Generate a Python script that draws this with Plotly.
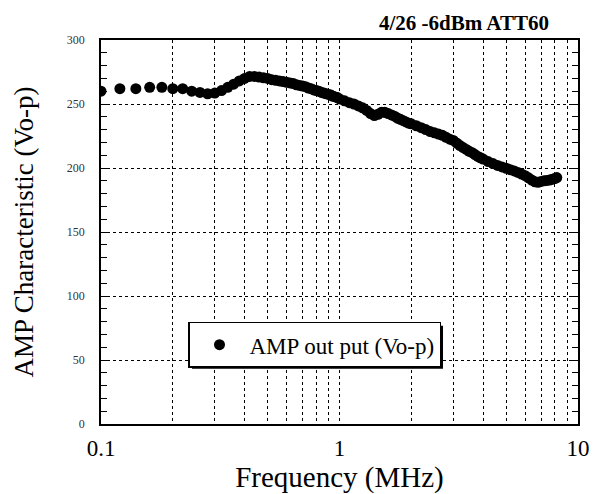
import plotly.graph_objects as go

freq_mhz = [
    0.10, 0.12, 0.14, 0.16, 0.18, 0.20, 0.22, 0.24, 0.26, 0.28,
    0.30, 0.32, 0.34, 0.36, 0.38, 0.40, 0.42, 0.44, 0.46, 0.48,
    0.50, 0.52, 0.54, 0.56, 0.58, 0.60, 0.62, 0.64, 0.66, 0.68,
    0.70, 0.72, 0.74, 0.76, 0.78, 0.80, 0.82, 0.84, 0.86, 0.88,
    0.90, 0.92, 0.94, 0.96, 0.98, 1.00,
    1.05, 1.10, 1.15, 1.20, 1.25, 1.30, 1.35, 1.40, 1.45, 1.50,
    1.55, 1.60, 1.65, 1.70, 1.75, 1.80, 1.85, 1.90, 1.95, 2.00,
    2.1, 2.2, 2.3, 2.4, 2.5, 2.6, 2.7, 2.8, 2.9, 3.0,
    3.1, 3.2, 3.3, 3.4, 3.5, 3.6, 3.7, 3.8, 3.9, 4.0,
    4.2, 4.4, 4.6, 4.8, 5.0, 5.2, 5.4, 5.6, 5.8, 6.0,
    6.2, 6.4, 6.6, 6.8, 7.0, 7.2, 7.4, 7.6, 7.8, 8.0, 8.15,
]
amp_vop = [
    260, 262, 262, 263, 263, 262, 262, 260, 259, 258,
    258.5, 260.5, 263, 265.5, 268, 270, 271.5, 271.5, 271, 270.5,
    270, 269, 268.5, 268, 267.5, 267, 266.5, 266, 265, 264.5,
    264, 263.5, 262.5, 262, 261, 260.5, 260, 259, 258.5, 258,
    257.5, 257, 256, 255.5, 255, 254,
    252.5, 251, 250, 248.5, 247, 245, 242.5, 241, 242, 243.5,
    243.5, 242.5, 241.5, 240.5, 239, 238, 237, 236, 235, 234.5,
    233, 231.5, 230, 228.5, 227.5, 226.5, 225.5, 224, 222.5, 221.5,
    219.5, 217.5, 216, 214.5, 213, 212, 210.5, 209, 208, 207,
    205, 203.5, 202, 200.8, 199.8, 198.7, 197.7, 196.5, 195.3, 194,
    192.3, 190.6, 189.2, 188.8, 189.5, 190, 190.3, 190.6, 191.2, 191.8, 192.5,
]

x_tick_vals = [0.1, 0.2, 0.3, 0.4, 0.5, 0.6, 0.7, 0.8, 0.9,
               1, 2, 3, 4, 5, 6, 7, 8, 9, 10]
x_tick_text = ["0.1", "", "", "", "", "", "", "", "",
               "1", "", "", "", "", "", "", "", "", "10"]
y_tick_vals = [0, 50, 100, 150, 200, 250, 300]

series_name = "AMP out put (Vo-p)"
chart_title = "4/26 -6dBm ATT60"
x_title = "Frequency (MHz)"
y_title = "AMP Characteristic (Vo-p)"

SERIF = "Liberation Serif, Times New Roman, serif"

fig = go.Figure()
fig.add_trace(go.Scatter(
    x=freq_mhz, y=amp_vop, mode="markers", name=series_name,
    marker=dict(color="black", size=11, line=dict(width=0)),
))

fig.update_layout(
    width=592, height=486,
    margin=dict(l=93, r=22, t=31.5, b=69.5, autoexpand=False),
    paper_bgcolor="white", plot_bgcolor="white",
    font=dict(family=SERIF, color="black"),
    showlegend=True,
    legend=dict(
        x=0.1824, y=0.2662, xanchor="left", yanchor="top",
        bgcolor="white", bordercolor="black", borderwidth=1.5,
        itemwidth=50,
        font=dict(family=SERIF, size=23, color="black"),
    ),
    annotations=[dict(
        text="<b>" + chart_title + "</b>", xref="paper", yref="paper",
        x=0.761, y=1.0, xanchor="center", yanchor="top", yshift=31,
        showarrow=False, font=dict(family=SERIF, size=21, color="black"),
    )],
    # drop shadow behind the legend box
    shapes=[dict(
        type="rect", xref="paper", yref="paper", layer="above",
        x0=0.1908, x1=0.717, y0=0.1442, y1=0.2558,
        fillcolor="black", line=dict(width=0),
    )],
)

fig.update_xaxes(
    type="log", range=[-1, 1], automargin=False,
    tickmode="array", tickvals=x_tick_vals, ticktext=x_tick_text,
    ticks="", showgrid=True, gridcolor="black", griddash="dot", gridwidth=1,
    showline=True, linecolor="black", linewidth=1.5, mirror=True,
    tickfont=dict(family=SERIF, size=23, color="black"),
    ticklabelstandoff=3,
    title=dict(text=x_title, font=dict(family=SERIF, size=29, color="black"), standoff=7),
    zeroline=False,
)
fig.update_yaxes(
    range=[0, 300], tickmode="array", tickvals=y_tick_vals, automargin=False,
    ticks="inside", ticklen=6, tickcolor="black",
    minor=dict(dtick=10, ticks="inside", ticklen=6, tickcolor="black", showgrid=False),
    showgrid=True, gridcolor="black", griddash="dot", gridwidth=1,
    showline=True, linecolor="black", linewidth=1.5, mirror="ticks",
    tickfont=dict(family=SERIF, size=12, color="#333333"),
    ticklabelstandoff=12,
    title=dict(text=y_title, font=dict(family=SERIF, size=27, color="black"), standoff=25),
    zeroline=False,
)

fig.write_html("out.html")
